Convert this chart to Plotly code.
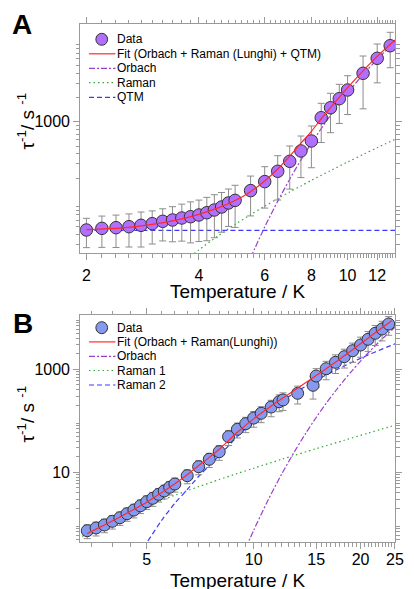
import numpy as np
import plotly.graph_objects as go

# ---------------- DATA: panel A ----------------
T_A = [2.0, 2.2, 2.4, 2.6, 2.8, 3.0, 3.2, 3.4, 3.6, 3.8, 4.0, 4.2, 4.4, 4.6, 4.8, 5.0,
       5.5, 6.0, 6.5, 7.0, 7.5, 8.0, 8.5, 9.0, 9.5, 10.0, 11.0, 12.0, 13.0]
rate_A = [45.5, 47.7, 48.6, 50.0, 52.0, 54.5, 58.3, 60.5, 64.1, 66.5, 69.8, 74.5, 80.5, 87.7, 98.4, 106,
          140, 181, 243, 323, 434, 577, 1121, 1490, 1928, 2471, 3980, 6105, 8743]
err_A = [18, 20, 21, 22, 24, 24, 25, 28, 31, 35, 37, 41, 44, 45, 48, 57,
         72, 96, 136, 177, 231, 308, 569, 759, 976, 1244, 2536, 3075, 4077]

fitT_A = [2.0, 2.5, 3.0, 3.5, 4.0, 4.5, 5.0, 5.5, 6.0, 6.5, 7.0, 7.5, 8.0, 8.5, 9.0, 10.0, 11.0, 12.0, 13.4]
fit_A = [46, 48.4, 53.3, 60.8, 71.2, 85.4, 105.6, 136, 184, 259, 374, 541, 760, 1088, 1495, 2637, 4274, 6448, 10300]
orbT_A = [5.5, 6.0, 6.5, 7.0, 7.5, 8.0, 9.0, 10.0, 11.0, 12.0, 13.4]
orb_A = [20.7, 49.5, 103, 194, 336, 541, 1202, 2275, 3837, 5927, 9772]
ramT_A = [3.8, 4.0, 4.5, 5.0, 5.5, 6.0, 6.5, 7.0, 7.5, 8.0, 9.0, 10.0, 11.0, 12.0, 13.4]
ram_A = [21.5, 25.8, 38.4, 53.3, 70.5, 89.9, 111.3, 134.9, 160, 187.8, 248, 316.7, 392, 476, 605]
qtmT_A = [2.0, 13.4]
qtm_A = [45, 45]

# ---------------- DATA: panel B ----------------
T_B = [3.4, 3.6, 3.8, 4.0, 4.2, 4.4, 4.6, 4.8, 5.0, 5.2, 5.4, 5.6, 5.8, 6.0,
       6.5, 7.0, 7.5, 8.0, 8.5, 9.0, 9.5, 10.0, 10.5, 11.2, 11.8, 12.1, 13.3, 14.7, 15.0,
       16, 17, 18, 19, 20, 21, 22, 23, 24]
rate_B = [0.735, 0.83, 0.95, 1.12, 1.31, 1.57, 1.85, 2.24, 2.69, 3.13, 3.74, 4.34, 5.12, 5.93,
          8.59, 12.85, 17.9, 25.1, 49.1, 68.4, 87.9, 113, 140, 185, 235, 254, 342, 489, 741,
          1027, 1368, 1758, 2296, 2963, 3826, 5000, 6063, 7580]
err_B = [0.22, 0.25, 0.28, 0.33, 0.38, 0.45, 0.55, 0.66, 0.8, 0.95, 1.1, 1.3, 1.5, 1.8,
         2.6, 3.9, 5.5, 8, 16, 22, 29, 38, 48, 65, 85, 95, 130, 225, 290,
         400, 540, 700, 930, 1250, 1600, 2100, 2500, 3000]

fitT_B = [3.4, 3.5, 4.0, 4.5, 5.0, 5.5, 6.0, 6.5, 7.0, 7.5, 8.0, 9.0, 10, 11, 12, 13, 14, 15,
          16, 17, 18, 19, 20, 21, 22, 23, 24, 24.5]
fit_B = [0.645, 0.715, 1.13, 1.75, 2.62, 4.0, 6.0, 9.0, 13.5, 19.5, 28, 60, 109, 176, 267, 388, 547, 755,
         1026, 1376, 1829, 2404, 3128, 4022, 5106, 6412, 7955, 8820]
orbT_B = [9.5, 10, 11, 12, 13, 14, 15, 16, 17, 18, 19, 20, 21, 22, 23, 24, 25.1]
orb_B = [0.336, 0.745, 2.95, 9.29, 24.5, 56.3, 116, 218, 379, 622, 968, 1444, 2070, 2871, 3873, 5097, 6714]
r1T_B = [3.2, 3.5, 4.0, 4.5, 5.0, 5.5, 6.0, 7.0, 8.0, 9.0, 10, 12, 15, 18, 21, 25.1]
r1_B = [0.514, 0.715, 1.12, 1.62, 2.19, 2.85, 3.58, 5.26, 7.23, 9.48, 12.0, 17.9, 28.7, 41.9, 57.6, 82.9]
r2T_B = [4.9, 5.0, 5.5, 6.0, 6.5, 7.0, 7.5, 8.0, 9.0, 10, 11, 12, 13, 14, 15, 16, 17, 18, 19, 20,
         21, 22, 23, 24, 25.1]
r2_B = [0.35, 0.43, 1.15, 2.5, 4.6, 8.3, 13.5, 21, 50, 96.3, 158.2, 240, 342.5, 465.9, 610, 775, 960,
        1165, 1389, 1632, 1894, 2172, 2470, 2782, 3150]

# ---------------- STYLE ----------------
W, H = 414, 589
FONT = "Liberation Sans, Arial, sans-serif"
AXC = "#9a9a9a"
C_FIT = "#ff2a2a"
C_ORB = "#9b3fcf"
C_RAM = "#33aa33"
C_QTM = "#3a3aff"
C_DATA_A = "rgb(178,110,252)"
C_DATA_B = "rgb(135,152,240)"
ERRC = "#8c8c8c"
DASH = {"solid": "solid", "dashdot": "6px,2px,2px,2px", "dot": "1.5px,3px", "dash": "5px,3px"}


def px(x):
    return x / W


def py(y):
    return 1 - y / H


fig = go.Figure()


def add_line(x, y, color, dash, xa, ya):
    fig.add_trace(go.Scatter(x=x, y=y, mode="lines", xaxis=xa, yaxis=ya,
                             line=dict(color=color, width=1.2, dash=DASH[dash], shape="spline", smoothing=0.8),
                             hoverinfo="skip"))


# Panel A
add_line(orbT_A, orb_A, C_ORB, "dashdot", "x", "y")
add_line(ramT_A, ram_A, C_RAM, "dot", "x", "y")
add_line(qtmT_A, qtm_A, C_QTM, "dash", "x", "y")
fig.add_trace(go.Scatter(x=T_A, y=rate_A, mode="markers", xaxis="x", yaxis="y",
                         marker=dict(size=12.5, color=C_DATA_A, line=dict(color="#333333", width=1)),
                         error_y=dict(type="data", array=err_A, symmetric=True, color=ERRC,
                                      thickness=1, width=3.5)))
add_line(fitT_A, fit_A, C_FIT, "solid", "x", "y")

# Panel B
add_line(orbT_B, orb_B, C_ORB, "dashdot", "x2", "y2")
add_line(r1T_B, r1_B, C_RAM, "dot", "x2", "y2")
add_line(r2T_B, r2_B, C_QTM, "dash", "x2", "y2")
fig.add_trace(go.Scatter(x=T_B, y=rate_B, mode="markers", xaxis="x2", yaxis="y2",
                         marker=dict(size=12, color=C_DATA_B, line=dict(color="#333333", width=1)),
                         error_y=dict(type="data", array=err_B, symmetric=True, color=ERRC,
                                      thickness=1, width=3.5)))
add_line(fitT_B, fit_B, C_FIT, "solid", "x2", "y2")

common = dict(type="log", showline=True, linecolor=AXC, linewidth=1, mirror="allticks",
              ticks="outside", ticklen=6, tickwidth=1, tickcolor=AXC, showgrid=False,
              zeroline=False, tickfont=dict(family=FONT, size=16, color="black"))


def minor(vals):
    return dict(tickmode="array", tickvals=vals, ticks="outside", ticklen=3.5,
                tickwidth=1, tickcolor=AXC, showgrid=False)


xminA = [round(v, 2) for v in np.arange(2.2, 13.5, 0.2) if abs(v / 2 - round(v / 2)) > 1e-6 or v > 12.5]
yminA = [d * m for d in (10, 100, 1000, 10000) for m in range(2, 10)]
xminB = [round(v, 2) for v in np.arange(3.5, 25.0, 0.5) if abs(v / 5 - round(v / 5)) > 1e-6]
yminB = [d * m for d in (0.1, 1, 10, 100, 1000, 10000) for m in range(2, 10)]

XD = [px(82), px(404)]
YA = [py(253), py(24)]
YB = [py(542), py(315)]
RYA = [1.373, 4.2107]
RYB = [-0.3534, 4.0544]
fig.update_layout(
    width=W, height=H, margin=dict(l=0, r=0, t=0, b=0),
    paper_bgcolor="white", plot_bgcolor="white", showlegend=False,
    font=dict(family=FONT, color="black"),
    xaxis=dict(common, domain=XD, anchor="y", range=[0.28446, 1.12739],
               tickmode="array", tickvals=[2, 4, 6, 8, 10, 12],
               ticktext=["2", "4", "6", "8", "10", "12"], minor=minor(xminA),
               ticklabelstandoff=2),
    yaxis=dict(common, domain=YA, anchor="x", range=RYA,
               tickmode="array", tickvals=[1000], ticktext=["1000"],
               minor=minor(yminA)),
    yaxis3=dict(common, domain=YA, anchor="x", overlaying="y", range=RYA, showline=False,
                tickmode="array", tickvals=[100, 10000], showticklabels=False),
    xaxis2=dict(common, domain=XD, anchor="y2", range=[0.51164, 1.39869],
                tickmode="array", tickvals=[5, 10, 15, 20, 25],
                ticktext=["5", "10", "15", "20", "25"], minor=minor(xminB),
                ticklabelstandoff=-3),
    yaxis2=dict(common, domain=YB, anchor="x2", range=RYB,
                tickmode="array", tickvals=[10, 1000], ticktext=["10", "1000"],
                minor=minor(yminB)),
    yaxis4=dict(common, domain=YB, anchor="x2", overlaying="y2", range=RYB, showline=False,
                tickmode="array", tickvals=[1, 100, 10000], showticklabels=False),
)

ann = []
shapes = []
# axis titles
for yc in (291, 580):
    ann.append(dict(text="Temperature / K", x=px(243), y=py(yc), xref="paper", yref="paper",
                    xanchor="center", yanchor="middle", showarrow=False,
                    font=dict(family=FONT, size=19, color="black")))
for yc in (121, 414):
    ann.append(dict(text="τ<sup>-1</sup>/ s <sup>-1</sup>", x=px(27), y=py(yc), xref="paper",
                    yref="paper", xanchor="center", yanchor="middle", textangle=-90,
                    showarrow=False, font=dict(family=FONT, size=19, color="black")))
# panel letters
for lab, (xc, yc) in (("A", (22, 25)), ("B", (23, 323))):
    ann.append(dict(text="<b>%s</b>" % lab, x=px(xc), y=py(yc), xref="paper", yref="paper",
                    xanchor="center", yanchor="middle", showarrow=False,
                    font=dict(family=FONT, size=28, color="black")))


def legend(rows, entries, data_color):
    for (yrow, (label, kind, color, dash)) in zip(rows, entries):
        if kind == "marker":
            r = 6
            shapes.append(dict(type="circle", xref="paper", yref="paper",
                               x0=px(104 - r), x1=px(104 + r), y0=py(yrow + r), y1=py(yrow - r),
                               fillcolor=data_color, line=dict(color="#333333", width=1)))
        else:
            shapes.append(dict(type="line", xref="paper", yref="paper",
                               x0=px(91), x1=px(118), y0=py(yrow), y1=py(yrow),
                               line=dict(color=color, width=1.2, dash=DASH[dash])))
        ann.append(dict(text=label, x=px(118), y=py(yrow), xref="paper", yref="paper",
                        xanchor="left", yanchor="middle", showarrow=False,
                        font=dict(family=FONT, size=12, color="black")))


legend([39.3, 53.8, 68.3, 82.7, 97.3],
       [("Data", "marker", None, None),
        ("Fit (Orbach + Raman (Lunghi) + QTM)", "line", C_FIT, "solid"),
        ("Orbach", "line", C_ORB, "dashdot"),
        ("Raman", "line", C_RAM, "dot"),
        ("QTM", "line", C_QTM, "dash")], C_DATA_A)
legend([327.7, 341.9, 356.3, 370.5, 385.0],
       [("Data", "marker", None, None),
        ("Fit (Orbach + Raman(Lunghi))", "line", C_FIT, "solid"),
        ("Orbach", "line", C_ORB, "dashdot"),
        ("Raman 1", "line", C_RAM, "dot"),
        ("Raman 2", "line", C_QTM, "dash")], C_DATA_B)

fig.update_layout(annotations=ann, shapes=shapes)
fig.write_html("out.html")
